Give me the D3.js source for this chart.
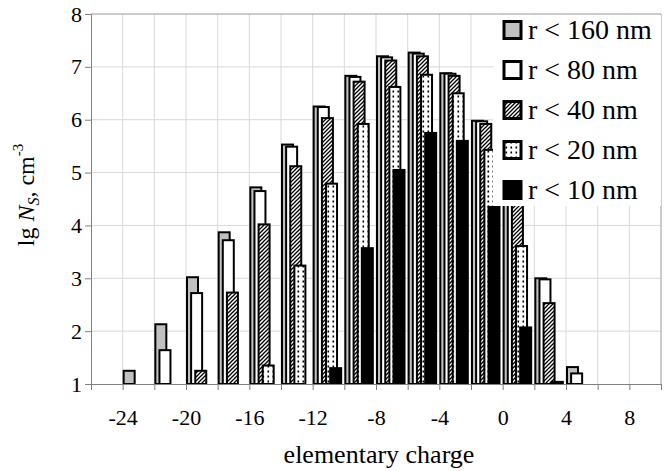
<!DOCTYPE html>
<html>
<head>
<meta charset="utf-8">
<script src="https://cdn.jsdelivr.net/npm/d3@7"></script>
<style>
  body { margin: 0; background: #fff; }
  text { font-family: "Liberation Serif", "Times New Roman", "DejaVu Serif", serif; }
</style>
</head>
<body>
<div id="chart"></div>
<script>
// charge bins (left edge of each 2-unit cluster)
const charges = [-24, -22, -20, -18, -16, -14, -12, -10, -8, -6, -4, -2, 0, 2, 4];
const r160 = [1.25, 2.13, 3.02, 3.87, 4.72, 5.53, 6.25, 6.83, 7.20, 7.27, 6.88, 5.98, 4.65, 3.00, 1.32];
const r80  = [null, 1.64, 2.72, 3.72, 4.65, 5.49, 6.24, 6.81, 7.18, 7.25, 6.87, 5.97, 4.60, 2.98, 1.20];
const r40  = [null, null, 1.25, 2.73, 4.02, 5.12, 6.03, 6.72, 7.12, 7.20, 6.83, 5.92, 4.40, 2.53, null];
const r20  = [null, null, null, null, 1.35, 3.24, 4.79, 5.92, 6.62, 6.85, 6.50, 5.43, 3.61, null, null];
const r10  = [null, null, null, null, null, null, 1.30, 3.57, 5.05, 5.75, 5.60, 4.35, 2.07, 1.04, null];
const seriesNames = ["r < 160 nm", "r < 80 nm", "r < 40 nm", "r < 20 nm", "r < 10 nm"];
const xTickLabels = [-24, -20, -16, -12, -8, -4, 0, 4, 8];
const yTickLabels = [1, 2, 3, 4, 5, 6, 7, 8];

const W = 670, H = 471;
const margin = {top: 14, right: 9, bottom: 87, left: 91};
const width = W - margin.left - margin.right;
const height = H - margin.top - margin.bottom;
const serif = "'Liberation Serif', 'Times New Roman', 'DejaVu Serif', serif";

const svg = d3.select("#chart").append("svg")
    .attr("width", W)
    .attr("height", H)
    .style("display", "block");

const defs = svg.append("defs");
const hatch = defs.append("pattern")
    .attr("id", "hatch")
    .attr("patternUnits", "userSpaceOnUse")
    .attr("width", 4).attr("height", 4);
hatch.append("rect").attr("width", 4).attr("height", 4).attr("fill", "#fff");
hatch.append("path")
    .attr("d", "M-1,1 l2,-2 M0,4 l4,-4 M3,5 l2,-2")
    .attr("stroke", "#000")
    .attr("stroke-width", 1.3);

const dots = defs.append("pattern")
    .attr("id", "dots")
    .attr("patternUnits", "userSpaceOnUse")
    .attr("width", 5).attr("height", 5);
dots.append("rect").attr("width", 5).attr("height", 5).attr("fill", "#fff");
dots.append("rect").attr("x", 1.5).attr("y", 1.5).attr("width", 1.6).attr("height", 2).attr("fill", "#000");

const fills = ["#c0c0c0", "#ffffff", "url(#hatch)", "url(#dots)", "#000000"];

const g = svg.append("g")
    .attr("transform", `translate(${margin.left},${margin.top})`);

const x = d3.scaleLinear().domain([-26, 10]).range([0, width]);
const y = d3.scaleLinear().domain([1, 8]).range([height, 0]);

// grid
g.selectAll(".vgrid")
    .data(d3.range(-24, 10, 2))
    .enter().append("line")
    .attr("class", "vgrid")
    .attr("x1", d => x(d)).attr("x2", d => x(d))
    .attr("y1", 0).attr("y2", height)
    .attr("stroke", "#d9d9d9");

g.selectAll(".hgrid")
    .data(yTickLabels.slice(1))
    .enter().append("line")
    .attr("class", "hgrid")
    .attr("x1", 0).attr("x2", width)
    .attr("y1", d => y(d)).attr("y2", d => y(d))
    .attr("stroke", d => d === 8 ? "#9a9a9a" : "#d9d9d9");

g.append("line")
    .attr("x1", width).attr("x2", width)
    .attr("y1", 0).attr("y2", height)
    .attr("stroke", "#9a9a9a");

// bars
const barW = 11;
const inner = d3.scaleLinear().domain([0, 4]).range([1, 17.5]);
const seriesData = [r160, r80, r40, r20, r10];

seriesData.forEach((vals, si) => {
    const pts = charges.map((c, i) => ({c: c, v: vals[i]})).filter(d => d.v != null);
    g.selectAll(".bar" + si)
        .data(pts)
        .enter().append("rect")
        .attr("class", "bar" + si)
        .attr("x", d => x(d.c) + inner(si))
        .attr("y", d => y(d.v))
        .attr("width", barW)
        .attr("height", d => y(1) - y(d.v))
        .attr("fill", fills[si])
        .attr("stroke", "#000")
        .attr("stroke-width", 2);
});

// axes
const xAxis = d3.axisBottom(x)
    .tickValues(d3.range(-26, 11, 2))
    .tickSize(6)
    .tickFormat(d => xTickLabels.includes(d) ? d : "");
const xg = g.append("g")
    .attr("transform", `translate(0,${height})`)
    .call(xAxis)
    .attr("font-family", serif);
xg.select(".domain").attr("stroke", "#808080");
xg.selectAll(".tick line").attr("stroke", "#808080");
xg.selectAll(".tick text")
    .attr("dy", null)
    .attr("y", 41)
    .attr("font-size", 22)
    .attr("fill", "#000");

const yAxis = d3.axisLeft(y)
    .tickValues(yTickLabels)
    .tickSize(6)
    .tickFormat(d3.format("d"));
const yg = g.append("g").call(yAxis)
    .attr("font-family", serif);
yg.select(".domain").attr("stroke", "#808080");
yg.selectAll(".tick line").attr("stroke", "#808080");
yg.selectAll(".tick text")
    .attr("x", -9)
    .attr("font-size", 22)
    .attr("fill", "#000");

// axis titles
svg.append("text")
    .attr("x", 379)
    .attr("y", 463)
    .attr("text-anchor", "middle")
    .attr("font-size", 26)
    .text("elementary charge");

const yTitle = svg.append("text")
    .attr("transform", "translate(34,195) rotate(-90)")
    .attr("text-anchor", "middle")
    .attr("font-size", 24);
yTitle.append("tspan").text("lg ");
yTitle.append("tspan").attr("font-style", "italic").text("N");
yTitle.append("tspan").attr("font-style", "italic").attr("font-size", 16).attr("dy", 5).text("S");
yTitle.append("tspan").attr("dy", -5).text(", cm");
yTitle.append("tspan").attr("font-size", 15).attr("dy", -11).text("-3");

// legend
const lg = svg.append("g").attr("transform", "translate(493,15)");
lg.append("rect")
    .attr("width", 168).attr("height", 191)
    .attr("fill", "#fff");
const items = lg.selectAll(".leg")
    .data(seriesNames)
    .enter().append("g")
    .attr("class", "leg")
    .attr("transform", (d, i) => `translate(11,${15 + i * 40})`);
items.append("rect")
    .attr("x", 0).attr("y", -8.5)
    .attr("width", 17).attr("height", 17)
    .attr("fill", (d, i) => fills[i])
    .attr("stroke", "#000")
    .attr("stroke-width", 3);
items.append("text")
    .attr("x", 24).attr("dy", "0.33em")
    .attr("font-size", 28)
    .text(d => d);
</script>
</body>
</html>
